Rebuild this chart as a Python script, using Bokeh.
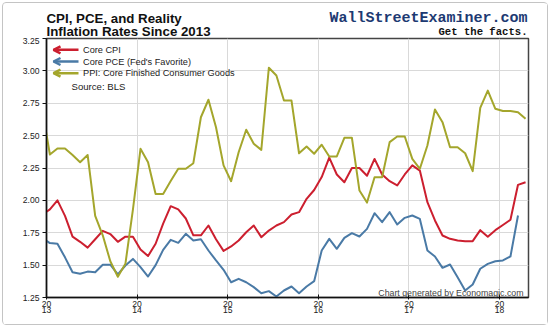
from bokeh.plotting import figure
from bokeh.layouts import column
from bokeh.models import FixedTicker, NumeralTickFormatter, Label, Arrow, OpenHead, Range1d
from bokeh.embed import file_html
from bokeh.resources import INLINE

# ---- data (monthly, first value = Dec 2012) ----
start_year, start_month = 2012, 12

core_cpi = [1.89, 1.93, 2.00, 1.88, 1.72, 1.68, 1.635, 1.70, 1.765, 1.74, 1.68, 1.72, 1.72,
            1.62, 1.57, 1.665, 1.82, 1.955, 1.93, 1.86, 1.73, 1.73, 1.806, 1.70, 1.61,
            1.644, 1.69, 1.754, 1.806, 1.716, 1.767, 1.806, 1.832, 1.891, 1.909, 2.012, 2.08,
            2.18, 2.33, 2.20, 2.14, 2.25, 2.25, 2.19, 2.32, 2.20, 2.148, 2.115, 2.20,
            2.27, 2.23, 1.986, 1.845, 1.729, 1.703, 1.69, 1.685, 1.685, 1.77, 1.72, 1.77,
            1.81, 1.85, 2.12, 2.14]

core_pce = [1.71, 1.67, 1.665, 1.56, 1.445, 1.433, 1.45, 1.445, 1.503, 1.503, 1.428, 1.497, 1.548,
            1.484, 1.412, 1.50, 1.618, 1.695, 1.672, 1.742, 1.69, 1.70, 1.613, 1.536, 1.464,
            1.368, 1.394, 1.368, 1.33, 1.283, 1.299, 1.258, 1.304, 1.335, 1.283, 1.335, 1.376,
            1.613, 1.703, 1.626, 1.71, 1.747, 1.721, 1.78, 1.901, 1.832, 1.909, 1.814, 1.865,
            1.883, 1.857, 1.613, 1.567, 1.479, 1.505, 1.407, 1.304, 1.35, 1.472, 1.51, 1.53,
            1.536, 1.567, 1.883]

ppi_core_goods = [2.70, 2.354, 2.40, 2.40, 2.35, 2.295, 2.35, 1.88, 1.73, 1.53, 1.41, 1.51, 1.93,
                  2.398, 2.295, 2.05, 2.05, 2.15, 2.244, 2.244, 2.287, 2.642, 2.777, 2.565, 2.27,
                  2.148, 2.372, 2.545, 2.437, 2.39, 3.024, 2.964, 2.771, 2.771, 2.364, 2.416, 2.36,
                  2.43, 2.339, 2.339, 2.483, 2.483, 2.076, 1.983, 2.179, 2.179, 2.45, 2.493, 2.493,
                  2.32, 2.244, 2.424, 2.702, 2.604, 2.41, 2.41, 2.364, 2.226, 2.715, 2.848, 2.707,
                  2.69, 2.69, 2.68, 2.63]

year_ticks = [2013, 2014, 2015, 2016, 2017, 2018]
year_tick_labels = ["20\n13", "20\n14", "20\n15", "20\n16", "20\n17", "20\n18"]
y_ticks = [1.25, 1.50, 1.75, 2.00, 2.25, 2.50, 2.75, 3.00, 3.25]

series_names = ["Core CPI", "Core PCE (Fed's Favorite)", "PPI: Core Finished Consumer Goods"]
series_colors = ["#cc1f2f", "#4a7aa6", "#a4a62c"]


def month_x(n):
    xs = []
    for i in range(n):
        total = (start_month - 1) + i
        yr = start_year + total // 12
        m = total % 12
        xs.append(yr + (m + 0.45) / 12)
    return xs


# ---- header (titles); frame aligned with the chart frame below ----
head = figure(width=544, height=34, output_backend="svg", toolbar_location=None,
              x_range=Range1d(0, 1), y_range=Range1d(0, 1),
              x_axis_type=None, y_axis_type=None,
              min_border_left=43, min_border_right=19, min_border_top=0, min_border_bottom=0)
head.outline_line_color = None
head.xgrid.visible = False
head.ygrid.visible = False
head.background_fill_color = "white"
head.border_fill_color = "white"

head.add_layout(Label(x=0, y=19.5, x_units="screen", y_units="screen", text="CPI, PCE, and Reality",
                      text_font="Liberation Sans", text_font_size="13.3px", text_font_style="bold",
                      text_color="#111111", text_baseline="alphabetic"))
head.add_layout(Label(x=0, y=6, x_units="screen", y_units="screen", text="Inflation Rates Since 2013",
                      text_font="Liberation Sans", text_font_size="13.3px", text_font_style="bold",
                      text_color="#111111", text_baseline="alphabetic"))
head.add_layout(Label(x=481, y=19.5, x_units="screen", y_units="screen", text="WallStreetExaminer.com",
                      text_font="Liberation Mono", text_font_size="15px", text_font_style="bold",
                      text_color="#1d3a72", text_align="right", text_baseline="alphabetic"))
head.add_layout(Label(x=481, y=6, x_units="screen", y_units="screen", text="Get the facts.",
                      text_font="Liberation Mono", text_font_size="10.6px", text_font_style="bold",
                      text_color="#111111", text_align="right", text_baseline="alphabetic"))

# ---- main chart ----
p = figure(width=544, height=287, output_backend="svg", toolbar_location=None,
           x_range=Range1d(2013.0, 2018.32), y_range=Range1d(1.25, 3.25),
           min_border_left=43, min_border_right=19, min_border_top=1, min_border_bottom=27)
p.background_fill_color = "white"
p.border_fill_color = "white"
p.outline_line_color = "#444444"
p.outline_line_width = 1.5

p.xgrid.ticker = FixedTicker(ticks=year_ticks)
p.ygrid.ticker = FixedTicker(ticks=y_ticks)
for g in (p.xgrid, p.ygrid):
    g.grid_line_color = "#d9d9d9"
    g.grid_line_width = 1

p.yaxis.ticker = FixedTicker(ticks=y_ticks)
p.yaxis.formatter = NumeralTickFormatter(format="0.00")
p.xaxis.ticker = FixedTicker(ticks=year_ticks)
p.xaxis.major_label_overrides = {y: lab for y, lab in zip(year_ticks, year_tick_labels)}
for ax in (p.xaxis, p.yaxis):
    ax.axis_line_color = "#111111"
    ax.axis_line_width = 1.5
    ax.major_tick_line_color = "#111111"
    ax.minor_tick_line_color = None
    ax.major_label_text_font = "Liberation Sans"
    ax.major_label_text_font_size = "8.6px"
    ax.major_label_text_color = "#222222"
p.yaxis.major_tick_out = 4
p.yaxis.major_tick_in = 0
p.yaxis.major_label_standoff = 3
p.xaxis.major_tick_out = 2
p.xaxis.major_tick_in = 3
p.xaxis.major_label_standoff = -1
p.xaxis.major_label_text_line_height = 0.64

for vals, col in zip([core_cpi, core_pce, ppi_core_goods], series_colors):
    p.line(month_x(len(vals)), vals, line_color=col, line_width=2, line_join="round")

leg_y = [247.7, 236.0, 224.3]
for name, col, ly in zip(series_names, series_colors, leg_y):
    p.add_layout(Arrow(x_start=32, y_start=ly, x_end=7, y_end=ly,
                       start_units="screen", end_units="screen",
                       line_color=col, line_width=2.5,
                       end=OpenHead(size=7, line_color=col, line_width=2.5), start=None))
    p.add_layout(Label(x=36.5, y=ly, x_units="screen", y_units="screen", text=name,
                       text_font="Liberation Sans", text_font_size="9.2px",
                       text_color="#222222", text_baseline="middle"))
p.add_layout(Label(x=25, y=211.3, x_units="screen", y_units="screen", text="Source:  BLS",
                   text_font="Liberation Sans", text_font_size="9.6px",
                   text_color="#222222", text_baseline="middle"))
p.add_layout(Label(x=477, y=5, x_units="screen", y_units="screen", text="Chart generated by Economagic.com",
                   text_font="Liberation Sans", text_font_size="8.8px",
                   text_color="#444444", text_align="right", text_baseline="alphabetic"))

layout = column(head, p, spacing=0)
layout.margin = (2, 2, 2, 2)
layout.styles = {"border": "1px solid #c4c4c4", "border-radius": "4px", "background-color": "white"}

open("out.html", "w").write(file_html(layout, INLINE))
